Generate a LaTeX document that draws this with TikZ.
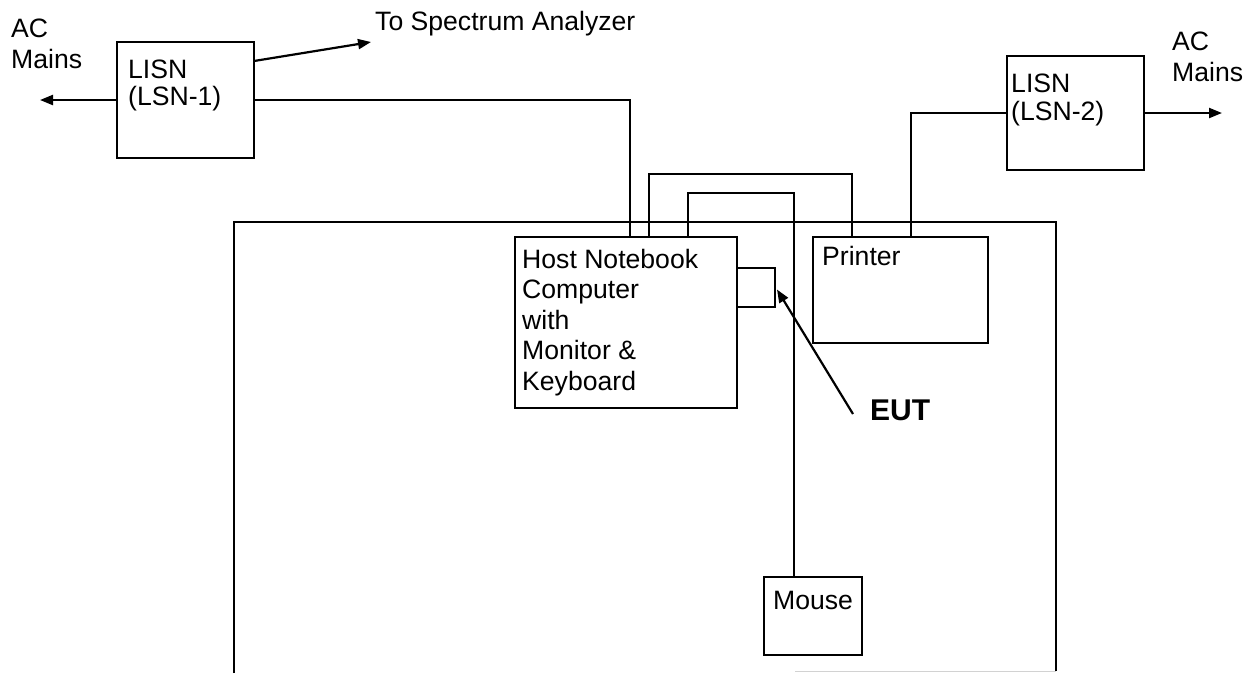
\documentclass[tikz,border=0pt]{standalone}
\usepackage{fontspec}
\setmainfont{Liberation Sans}
\usetikzlibrary{arrows.meta}
\begin{document}
\begin{tikzpicture}[x=1pt,y=-1pt,
  box/.style={draw, rectangle, line width=2.2pt, inner sep=0pt, outer sep=0pt, anchor=north west},
  lbl/.style={anchor=base west, inner sep=0pt, font=\fontsize{26.6}{30}\selectfont},
  biglbl/.style={anchor=base west, inner sep=0pt, font=\fontsize{30}{34}\selectfont\bfseries},
  wire/.style={line width=2.2pt},
  feed/.style={wire, -{Triangle[length=13pt,width=10pt]}},
  table/.style={line width=2.2pt}]
\useasboundingbox (0,0) rectangle (1255,673);

% test table outline
\draw[table] (234,673) -- (234,222) -- (1056,222) -- (1056,671);
\draw[gray!35, line width=1pt] (795,671) -- (1056,671);

% equipment boxes
\node[box, minimum width=137pt, minimum height=116pt] (lisn1) at (117,42) {};
\node[box, minimum width=137pt, minimum height=114pt] (lisn2) at (1007,56) {};
\node[box, minimum width=222pt, minimum height=171pt] (host) at (515,237) {};
\node[box, minimum width=38pt, minimum height=39pt] (eut) at (737,268) {};
\node[box, minimum width=175pt, minimum height=106pt] (printer) at (813,237) {};
\node[box, minimum width=98pt, minimum height=78pt] (mouse) at (764,577) {};

% free ends of the feeds
\coordinate (mainsL) at (40,100);
\coordinate (mainsR) at (1222,113);
\coordinate (analyzer) at (371,42);
\coordinate (eutfrom) at (853,414);

% texts
\node[lbl] (acL1) at (11,37) {AC};
\node[lbl] (acL2) at (11,68) {Mains};
\node[lbl] (lisn1a) at (128,78) {LISN};
\node[lbl] (lisn1b) at (128,105) {(LSN-1)};
\node[lbl] (spec) at (375,30) {To Spectrum Analyzer};
\node[lbl] (acR1) at (1172,50) {AC};
\node[lbl] (acR2) at (1172,81) {Mains};
\node[lbl] (lisn2a) at (1011,92) {LISN};
\node[lbl] (lisn2b) at (1011,120) {(LSN-2)};
\node[lbl] (host1) at (522,268) {Host Notebook};
\node[lbl] (host2) at (522,298.5) {Computer};
\node[lbl] (host3) at (522,329) {with};
\node[lbl] (host4) at (522,359.5) {Monitor \&};
\node[lbl] (host5) at (522,390) {Keyboard};
\node[lbl] (prn) at (822,265) {Printer};
\node[lbl] (mse) at (773,609) {Mouse};
\node[biglbl] (euttxt) at (870,420) {EUT};

% feeds and cables
\draw[feed] (lisn1.west) -- (mainsL);
\draw[feed] ([yshift=-19pt]lisn1.north east) -- (analyzer);
\draw[wire] (lisn1.east) -| ([xshift=115pt]host.north west);
\draw[wire] ([xshift=134pt]host.north west) -- ++(0,-63) -| ([xshift=39pt]printer.north west);
\draw[wire] ([xshift=173pt]host.north west) -- ++(0,-44) -| ([xshift=30pt]mouse.north west);
\draw[wire] ([xshift=98pt]printer.north west) |- (lisn2.west);
\draw[feed] (lisn2.east) -- (mainsR);
\draw[feed] (eutfrom) -- ([xshift=2pt,yshift=-2pt]eut.east);
\end{tikzpicture}
\end{document}
